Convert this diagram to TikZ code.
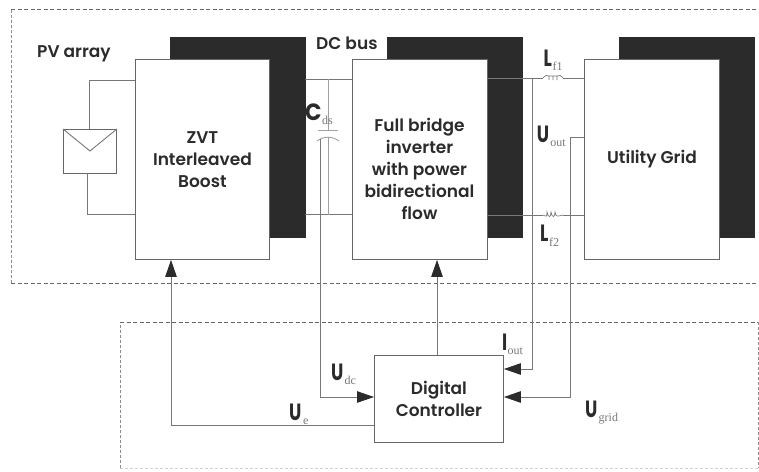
\documentclass[tikz,border=0pt]{standalone}
\usepackage{fontspec}
\usepackage{graphicx}
\setmainfont{Poppins}[BoldFont={Poppins SemiBold}]
\newfontfamily\subfont{Liberation Serif}
\newfontfamily\symfont{Poppins}
\usetikzlibrary{arrows.meta}
\definecolor{ink}{HTML}{2B2B2B}
\definecolor{wire}{HTML}{777777}
\definecolor{edge}{HTML}{666666}
\definecolor{dash}{HTML}{666666}
\newcommand{\lab}[5][0.74]{\makebox[#4pt][l]{\scalebox{#1}[1]{\symfont\bfseries #2}}\raisebox{-#5pt}{\fontsize{12}{12}\subfont\color{wire}#3}}
\tikzset{
  x=1pt,y=-1pt,
  shadowbox/.style={fill=ink,draw=ink,minimum width=135pt,minimum height=200pt,inner sep=0pt,anchor=north west},
  blockbox/.style={fill=white,draw=edge,line width=0.9pt,minimum width=134pt,minimum height=200pt,inner sep=0pt,anchor=north west,align=center,text=ink,font=\fontsize{17}{22}\selectfont\bfseries},
  ctrlbox/.style={blockbox,minimum width=129pt,minimum height=87pt},
  blocktext/.style={align=center,text=ink,inner sep=0pt,font=\fontsize{17}{22}\selectfont\bfseries},
  wireline/.style={draw=wire,line width=0.9pt},
  sigline/.style={wireline,-{Triangle[length=17pt,width=11.5pt,color=ink]}},
  dashbox/.style={draw=dash,line width=0.7pt,dash pattern=on 4pt off 2.5pt},
  faintbox/.style={draw=black!45,line width=0.6pt,dash pattern=on 3pt off 2pt},
  tag/.style={text=ink,font=\fontsize{17}{18}\selectfont\bfseries,inner sep=0pt,anchor=base west},
  symb/.style={text=ink,font=\fontsize{23.5}{25}\selectfont,inner sep=0pt,anchor=base west},
}
\begin{document}
\begin{tikzpicture}
\useasboundingbox (0,0) rectangle (759,471);
% dashed enclosures
\draw[faintbox] (11,283) -- (11,9);
\draw[dashbox] (11,9) -- (759,9);
\draw[dashbox] (11,283) -- (759,283);
\draw[faintbox] (120,468) -- (120,322);
\draw[dashbox] (120,322) -- (758,322);
\draw[faintbox] (758,322) -- (758,468);
\draw[black!18,line width=0.5pt,dash pattern=on 3pt off 2pt] (120,468) -- (758,468);
% shadows
\node[shadowbox] (s1) at (170,37) {};
\node[shadowbox] (s2) at (387,37) {};
\node[shadowbox] (s3) at (619,37) {};
% blocks
\node[blockbox] (boost) at (135,59) {ZVT\\Interleaved\\Boost};
\node[blockbox,minimum width=135pt] (inv) at (352,59) {};
\node[blocktext] (invtext) at (419.5,169) {Full bridge\\inverter\\with power\\bidirectional\\flow};
\node[blockbox,minimum width=135pt] (grid) at (584,59) {Utility Grid};
\node[ctrlbox] (ctrl) at (374,355) {Digital\\Controller};
\node[draw=edge,line width=0.9pt,fill=white,minimum width=53pt,minimum height=44pt,inner sep=0pt,anchor=north west] (pv) at (63,129) {};
\draw[wireline] (pv.north west) -- (pv.center |- 0,151) -- (pv.north east);
% PV wiring
\coordinate (pvt) at (89,129); \coordinate (pvb) at (87,173);
\coordinate (bt) at (135,80); \coordinate (bb) at (135,214);
\draw[wireline] (pvt) -- (pvt |- bt) -- (bt);
\draw[wireline] (pvb) -- (pvb |- bb) -- (bb);
% DC bus
\coordinate (bus1a) at (305,79); \coordinate (bus1b) at (352,79);
\coordinate (bus2a) at (305,214.5); \coordinate (bus2b) at (352,214.5);
\draw[wireline] (bus1a) -- (bus1b);
\draw[wireline] (bus2a) -- (bus2b);
% capacitor
\coordinate (capt) at (328,79); \coordinate (capb) at (328,214.5);
\coordinate (plateL) at (318,130.5); \coordinate (plateR) at (338,130.5);
\coordinate (arcL) at (317,141); \coordinate (arcR) at (339,141);
\draw[wireline,draw=wire!70] (capt) -- (328,130.5);
\draw[wireline,draw=wire!70] (328,137) -- (capb);
\draw[wireline,draw=wire!70] (plateL) -- (plateR);
\draw[wireline,draw=wire!70] (arcL) .. controls (323,136) and (333,136) .. (arcR);
% output lines with inductors
\coordinate (o1a) at (487,78); \coordinate (o1b) at (584,78);
\coordinate (o2a) at (487,215); \coordinate (o2b) at (584,215);
\draw[wireline] (o1a) -- (543,78);
\draw[wireline] (563,78) -- (o1b);
\draw[wireline] (o2a) -- (543,215);
\draw[wireline] (563,215) -- (o2b);
\draw[wire,line width=0.7pt] (543,78) .. controls (545,75) and (548,75) .. (549,76) -- (549,80) (549,76) -- (553,76) -- (553,80) (553,76) -- (557,76) -- (557,80) (557,76) .. controls (559,75) and (561,75) .. (563,78);
\draw[wire,line width=0.7pt] (543,215) .. controls (546,216) and (547,218) .. (547,212) .. controls (548,218) and (551,218) .. (551,212) .. controls (552,218) and (555,218) .. (555,212) .. controls (556,218) and (558,216) .. (563,215);
% feedback
\coordinate (udcj) at (320,139);
\coordinate (iouttop) at (532,79);
\coordinate (ugridtop) at (584,137.5);
\coordinate (ugridc) at (570,137.5);
\coordinate (ctrlup) at (437,355);
\draw[sigline] (ctrl.west |- 0,425) -- (171,425) -- (boost.south -| 171,0);
\draw[sigline] (ctrlup) -- (inv.south -| ctrlup);
\draw[sigline] (udcj) -- (320,397) -- (ctrl.west |- 0,397);
\draw[sigline] (iouttop) -- (532,369) -- (ctrl.east |- 0,369);
\draw[sigline] (ugridtop) -- (ugridc) -- (570,397) -- (ctrl.east |- 0,397);
% labels
\node[tag] (pvlab) at (37,57.5) {PV array};
\node[tag] (buslab) at (316,49) {DC bus};
\node[symb] (c) at (305,120) {\lab[0.92]{C}{ds}{17}{4}};
\node[symb] (lf1) at (543.3,66.7) {\lab{L}{f1}{9}{3.5}};
\node[symb] (lf2) at (540,241.7) {\lab{L}{f2}{9}{4.5}};
\node[symb] (uout) at (536.7,142.7) {\lab{U}{out}{13.5}{4}};
\node[symb] (iout) at (502,350.7) {\lab{I}{out}{5.5}{3.5}};
\node[symb] (udc) at (331,380.7) {\lab{U}{dc}{13.5}{4}};
\node[symb] (ue) at (289,420) {\lab{U}{e}{14}{4}};
\node[symb] (ugrid) at (585,417) {\lab{U}{grid}{13.5}{4.5}};
\end{tikzpicture}
\end{document}
